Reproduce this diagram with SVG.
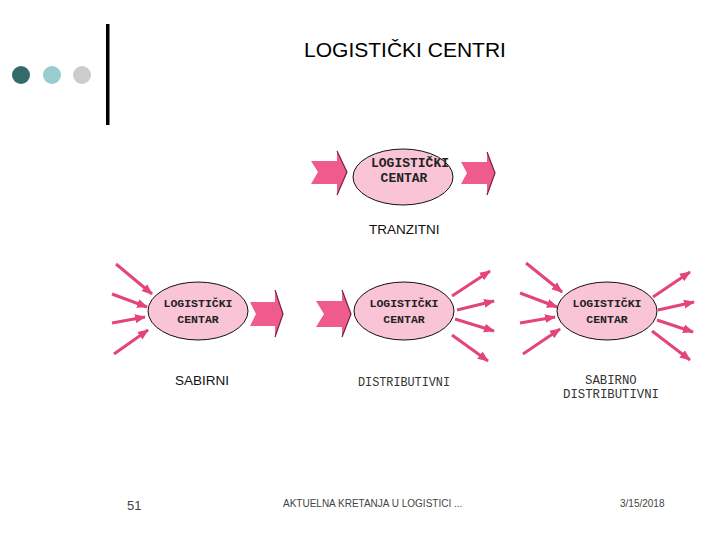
<svg xmlns="http://www.w3.org/2000/svg" width="720" height="540" viewBox="0 0 720 540">
<defs>
<marker id="ah" markerUnits="userSpaceOnUse" markerWidth="12" markerHeight="10" refX="10" refY="5" orient="auto">
<path d="M0,0.5 L11,5 L0,9.5 Z" fill="#e4447e"/>
</marker>
<style>
.bg{fill:#ffffff}
.el{fill:#f9c4d6;stroke:#111;stroke-width:1}
.blk{fill:#ef5b8d}
.sh{fill:none;stroke:#7a1f3e;stroke-width:1.2}
.ln{stroke:#e4447e;stroke-width:3;fill:none;marker-end:url(#ah)}
.nt{font-family:"Liberation Mono",monospace;font-weight:bold;font-size:11.5px;fill:#222;text-anchor:middle}
.nt.big{font-size:13px}
.lb{font-family:"Liberation Sans",Arial,sans-serif;font-size:13.5px;fill:#111}
.mn{font-family:"Liberation Mono",monospace;font-size:12.3px;fill:#333}
.ft{font-family:"Liberation Sans",Arial,sans-serif;fill:#444}
</style>
</defs>
<rect class="bg" x="0" y="0" width="720" height="540"/>
<g id="decor">
<circle cx="21" cy="75" r="9" fill="#336b6b"/>
<circle cx="52" cy="75" r="9" fill="#99cccc"/>
<circle cx="82" cy="75" r="9" fill="#cccccc"/>
<rect x="106" y="24" width="3.5" height="101" fill="#000"/>
</g>
<text id="title" x="405" y="57" font-family="Liberation Sans, Arial, sans-serif" font-size="21" text-anchor="middle" fill="#000">LOGISTIČKI CENTRI</text>

<g id="connectors">
<path class="blk" d="M311,161 L337,161 L337,151 L347,172 L337,195 L337,184 L311,184 L318,172 Z"/>
<polyline class="sh" points="337,151 347,172 337,195"/>
<path class="blk" d="M461,162 L487,162 L487,152 L495,173 L487,195 L487,184 L461,184 L467,173 Z"/>
<polyline class="sh" points="487,152 495,173 487,195"/>
<path class="blk" d="M250,302 L275,302 L275,290 L283,314 L275,337 L275,326 L250,326 L256,314 Z"/>
<polyline class="sh" points="275,290 283,314 275,337"/>
<path class="blk" d="M316,301 L342,301 L342,290 L351,314 L342,337 L342,327 L316,327 L324,314 Z"/>
<polyline class="sh" points="342,290 351,314 342,337"/>
<line class="ln" x1="116" y1="264" x2="152" y2="294"/>
<line class="ln" x1="112" y1="294" x2="147" y2="307"/>
<line class="ln" x1="112" y1="323" x2="145" y2="317"/>
<line class="ln" x1="114" y1="354" x2="148" y2="330"/>
<line class="ln" x1="452" y1="296" x2="490" y2="271"/>
<line class="ln" x1="457" y1="310" x2="494" y2="301"/>
<line class="ln" x1="455" y1="319" x2="494" y2="331"/>
<line class="ln" x1="452" y1="335" x2="488" y2="361"/>
<line class="ln" x1="526" y1="263" x2="562" y2="292"/>
<line class="ln" x1="520" y1="293" x2="557" y2="307"/>
<line class="ln" x1="520" y1="323" x2="555" y2="317"/>
<line class="ln" x1="523" y1="354" x2="560" y2="329"/>
<line class="ln" x1="653" y1="297" x2="690" y2="272"/>
<line class="ln" x1="658" y1="310" x2="694" y2="302"/>
<line class="ln" x1="657" y1="320" x2="693" y2="332"/>
<line class="ln" x1="652" y1="331" x2="690" y2="360"/>
</g>

<g id="node-tranzitni">
<ellipse class="el" cx="403" cy="177" rx="50" ry="28"/>
<text class="nt big" x="410" y="167">LOGISTIČKI</text>
<text class="nt big" x="404" y="182">CENTAR</text>
<text class="lb" x="369" y="234">TRANZITNI</text>
</g>
<g id="node-sabirni">
<ellipse class="el" cx="198" cy="311" rx="50" ry="29"/>
<text class="nt" x="198" y="307">LOGISTIČKI</text>
<text class="nt" x="198" y="323">CENTAR</text>
<text class="lb" x="175" y="385">SABIRNI</text>
</g>
<g id="node-distributivni">
<ellipse class="el" cx="404" cy="311" rx="50" ry="29"/>
<text class="nt" x="404" y="307">LOGISTIČKI</text>
<text class="nt" x="404" y="323">CENTAR</text>
<text class="mn" x="358" y="386" textLength="92" lengthAdjust="spacingAndGlyphs">DISTRIBUTIVNI</text>
</g>
<g id="node-sabirno-distributivni">
<ellipse class="el" cx="607" cy="311" rx="50" ry="29"/>
<text class="nt" x="607" y="307">LOGISTIČKI</text>
<text class="nt" x="607" y="323">CENTAR</text>
<text class="mn" x="585" y="384">SABIRNO</text>
<text class="mn" x="563" y="398">DISTRIBUTIVNI</text>
</g>

<g id="footer">
<text class="ft" x="127" y="510" font-size="13">51</text>
<text class="ft" x="283" y="507" font-size="10">AKTUELNA KRETANJA U LOGISTICI ...</text>
<text class="ft" x="620" y="507" font-size="10">3/15/2018</text>
</g>
</svg>
